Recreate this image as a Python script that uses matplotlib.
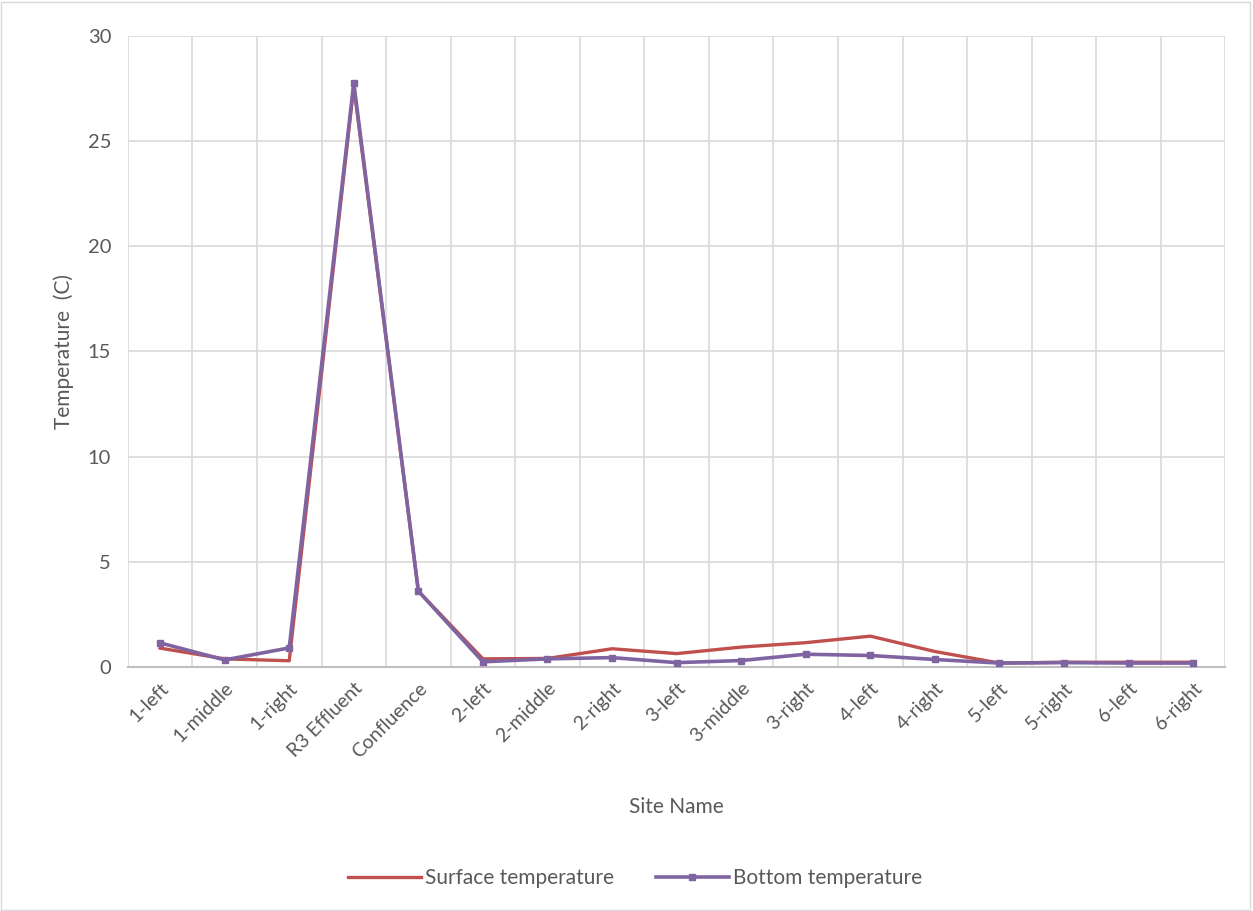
import numpy as np
import matplotlib.pyplot as plt
from matplotlib.patches import Rectangle

sites = ['1-left', '1-middle', '1-right', 'R3 Effluent', 'Confluence', '2-left', '2-middle',
         '2-right', '3-left', '3-middle', '3-right', '4-left', '4-right', '5-left', '5-right',
         '6-left', '6-right']
surface = [0.89, 0.38, 0.29, 27.6, 3.6, 0.38, 0.40, 0.86, 0.63, 0.94, 1.15, 1.46, 0.73,
           0.18, 0.22, 0.22, 0.22]
bottom = [1.14, 0.33, 0.90, 27.77, 3.6, 0.24, 0.38, 0.44, 0.20, 0.30, 0.60, 0.54, 0.35,
          0.18, 0.20, 0.18, 0.18]

plt.rcParams['font.family'] = ['Lato', 'DejaVu Sans']
txt = '#595959'

fig = plt.figure(figsize=(12.53, 9.11), dpi=100)
ax = fig.add_axes([0.102, 0.268, 0.876, 0.6925])

x = np.arange(len(sites))
ax.plot(x, surface, color='#C0504D', lw=2.4, label='Surface temperature', zorder=3)
ax.plot(x, bottom, color='#8064A2', lw=2.6, marker='s', ms=5, label='Bottom temperature', zorder=4)

ax.set_xlim(-0.5, len(sites) - 0.5)
ax.set_ylim(0, 30)
ax.set_yticks(range(0, 31, 5))
ax.set_xticks(x)
ax.set_xticklabels(sites, rotation=45, ha='right', rotation_mode='anchor', fontsize=14, color=txt)
ax.set_xticks(np.arange(-0.5, len(sites), 1), minor=True)
ax.tick_params(axis='y', labelsize=14.5, colors=txt, length=0, pad=12)
ax.tick_params(axis='x', which='both', length=0, pad=9)

ax.grid(axis='y', which='major', color='#D9D9D9', lw=1.2)
ax.grid(axis='x', which='minor', color='#D9D9D9', lw=1.2)
ax.set_axisbelow(True)
for s in ['top', 'right', 'left']:
    ax.spines[s].set_visible(False)
ax.spines['bottom'].set_color('#BFBFBF')
ax.spines['bottom'].set_linewidth(1.5)

ax.set_xlabel('Site Name', fontsize=15, color=txt, labelpad=26)
ax.set_ylabel('Temperature  (C)', fontsize=15, color=txt, labelpad=10)

ax.legend(loc='center', bbox_to_anchor=(0.462, -0.335), ncol=2, frameon=False,
          fontsize=15, labelcolor=txt, handlelength=3.5, handletextpad=0.2, columnspacing=2.0)

fig.patches.append(Rectangle((0.001, 0.001), 0.997, 0.997, transform=fig.transFigure,
                             fill=False, edgecolor='#D9D9D9', lw=1))

fig.savefig('out.png', dpi=100)
